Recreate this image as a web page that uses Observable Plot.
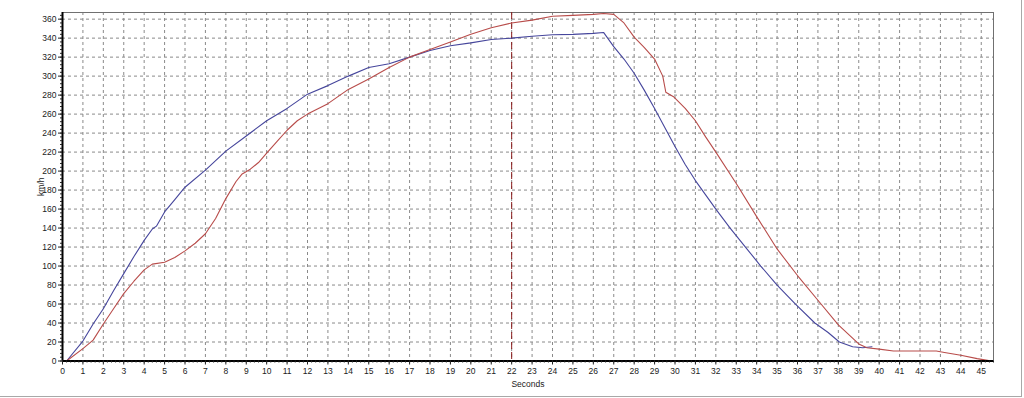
<!DOCTYPE html>
<html>
<head>
<meta charset="utf-8">
<script src="https://cdn.jsdelivr.net/npm/d3@7"></script>
<script src="https://cdn.jsdelivr.net/npm/@observablehq/plot@0.6"></script>
<style>
  html, body { margin: 0; padding: 0; background: #fff; }
  #wrap { position: relative; width: 1024px; height: 398px; overflow: hidden; }
  #wrap::after { content: ""; position: absolute; left: 0; top: 0; width: 1021px; height: 396px;
    border-right: 1px solid #a8a8a8; border-bottom: 1px solid #a8a8a8; pointer-events: none; }
  svg { display: block; font-family: "Liberation Sans", Arial, sans-serif; }
</style>
</head>
<body>
<div id="wrap"></div>
<script>
// Blue run: time (s) and speed (km/h)
const blueTime  = [0.2, 1, 1.5, 2, 2.5, 3, 3.5, 4, 4.4, 4.6, 5, 5.5, 6, 7, 8, 9, 10, 11, 11.67, 12, 13, 14, 15, 16, 17, 18, 19, 20, 21, 22, 23, 24, 25, 26, 26.5, 27, 27.5, 28, 28.5, 29, 29.5, 30, 30.5, 31, 31.5, 32, 32.7, 33.45, 34.2, 35, 35.9, 36.85, 37.5, 38.05, 38.7, 39.2, 39.65];
const blueSpeed = [0, 21, 39, 55, 74, 92, 110, 127, 139, 142, 157, 170, 183, 201, 221, 237, 253, 266, 276, 281, 290, 300, 309, 313, 320, 327, 332, 335, 338.5, 340, 342, 343.5, 344, 345, 346, 331, 318, 303, 285, 266, 246, 226, 207, 190, 175, 160, 140, 120, 100, 80, 60, 40, 30, 20, 15, 14, 15];

// Red run: time (s) and speed (km/h)
const redTime  = [0.2, 1, 1.5, 2, 2.5, 3, 3.5, 4, 4.4, 5, 5.5, 6, 6.5, 7, 7.5, 8, 8.5, 8.8, 9.2, 9.6, 10, 10.5, 11, 11.5, 12, 13, 14, 15, 16, 17, 18, 19, 20, 21, 22, 23, 24, 25, 26, 26.5, 27, 27.5, 28, 28.5, 29, 29.4, 29.55, 29.95, 30.5, 31, 31.5, 32, 33, 34, 35, 36, 37, 38, 39, 39.4, 40, 40.7, 41, 42, 42.8, 43.2, 44, 44.8, 45.3, 45.5];
const redSpeed = [0, 13, 22, 39, 55, 71, 84, 96, 102, 104, 109, 116, 124, 134, 150, 171, 189, 197, 202, 209, 219, 231, 243, 253, 260, 271, 286, 297, 309, 320, 328, 336, 344, 351, 356, 359, 363, 364, 365, 366, 365, 356, 341, 330, 318, 300, 283, 278, 266, 253, 236, 220, 187, 152, 118, 90, 64, 38, 18, 14, 12.5, 10.5, 10.5, 10.5, 10.5, 9, 6, 2.5, 0.7, 0];

// Cursor position and tick labels
const cursorTime = [22];
const xTickValues = d3.range(0, 46, 1);
const yTickValues = d3.range(0, 361, 20);
const xMinorTicks = d3.range(0, 45.61, 0.2);
const yMinorTicks = d3.range(0, 367, 4);

const blue = blueTime.map((t, i) => ({t, v: blueSpeed[i]}));
const red = redTime.map((t, i) => ({t, v: redSpeed[i]}));

const chart = Plot.plot({
  width: 1024,
  height: 398,
  marginLeft: 62,
  marginRight: 31,
  marginTop: 12,
  marginBottom: 37.5,
  style: {fontSize: "8.5px", fontFamily: "'Liberation Sans', Arial, sans-serif", color: "#222", background: "transparent"},
  x: {domain: [0, 45.6]},
  y: {domain: [0, 367]},
  marks: [
    Plot.gridX(xTickValues, {stroke: "#8a8a8a", strokeOpacity: 1, strokeDasharray: "3,3"}),
    Plot.gridY(yTickValues, {stroke: "#8a8a8a", strokeOpacity: 1, strokeDasharray: "3,3"}),
    Plot.frame({stroke: "#707070"}),
    Plot.ruleX(cursorTime, {stroke: "#8b1c1c", strokeDasharray: "7,3", strokeWidth: 1}),
    Plot.line(blue, {x: "t", y: "v", stroke: "#46469c", strokeWidth: 1.1}),
    Plot.line(red, {x: "t", y: "v", stroke: "#b84c4a", strokeWidth: 1.1}),
    Plot.ruleX([0], {stroke: "#000", strokeWidth: 2}),
    Plot.ruleY([0], {stroke: "#000", strokeWidth: 2}),
    Plot.axisX(xMinorTicks, {tickSize: 2, text: null, label: null, stroke: "#222"}),
    Plot.axisY(yMinorTicks.filter(d => d <= 366), {tickSize: 2, text: null, label: null, stroke: "#222"}),
    Plot.axisX(xTickValues, {tickSize: 4, tickPadding: 3, stroke: "#222", label: "Seconds", labelAnchor: "center", labelArrow: "none", labelOffset: 26}),
    Plot.axisY(yTickValues, {tickSize: 4, tickPadding: 2, stroke: "#222", label: "km/h", labelAnchor: "center", labelArrow: "none", labelOffset: 25})
  ]
});
document.getElementById("wrap").appendChild(chart);
</script>
</body>
</html>
